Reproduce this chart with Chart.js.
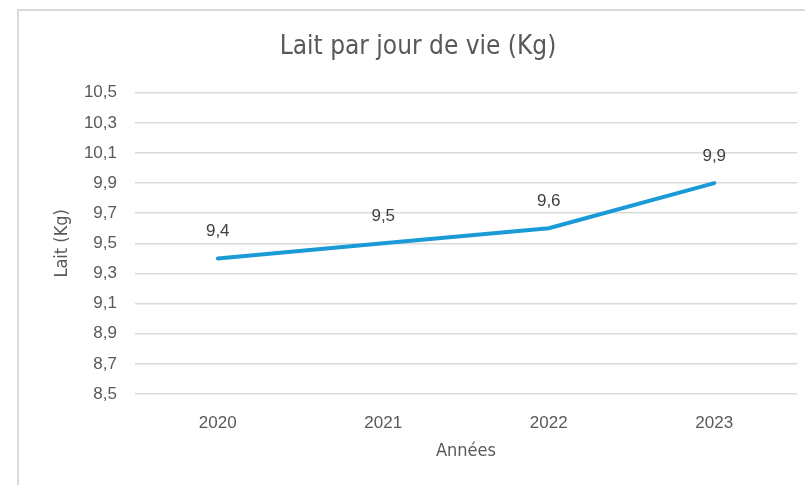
<!DOCTYPE html>
<html>
<head>
<meta charset="utf-8">
<script src="https://cdn.jsdelivr.net/npm/chart.js@4.4.1/dist/chart.umd.min.js"></script>
<style>
    body { margin: 0; background: #fff; }
    .frame {
        position: absolute;
        left: 17px;
        top: 9px;
        width: 788px;
        height: 476px;
        border-top: 2px solid #d9d9d9;
        border-left: 2px solid #d9d9d9;
    }
    .frame canvas { display: block; }
</style>
</head>
<body>
<div class="frame"><canvas id="milkChart" width="788" height="476"></canvas></div>
<script>
// Data
const years = ['2020', '2021', '2022', '2023'];
const milkPerDay = [9.4, 9.5, 9.6, 9.9];
const yMin = 8.5;
const yMax = 10.5;
const yStep = 0.2;

const narrowFont = "'Liberation Sans Narrow', 'DejaVu Sans Condensed', sans-serif";
const plainFont = "'Liberation Sans', Arial, sans-serif";
const textColor = '#595959';

const frLabel = v => v.toFixed(1).replace('.', ',');

// Simple value labels above each point
const pointLabels = {
    id: 'pointLabels',
    afterDatasetsDraw(chart) {
        const ctx = chart.ctx;
        const meta = chart.getDatasetMeta(0);
        ctx.save();
        ctx.font = '17px ' + plainFont;
        ctx.fillStyle = '#404040';
        ctx.textAlign = 'center';
        ctx.textBaseline = 'middle';
        meta.data.forEach((pt, i) => {
            ctx.fillText(frLabel(milkPerDay[i]), pt.x, pt.y - 27);
        });
        ctx.restore();
    }
};

new Chart(document.getElementById('milkChart'), {
    type: 'line',
    data: {
        labels: years,
        datasets: [{
            label: 'Lait',
            data: milkPerDay,
            borderColor: '#1a9bd7',
            borderWidth: 4,
            borderCapStyle: 'round',
            borderJoinStyle: 'round',
            pointRadius: 0,
            tension: 0,
            fill: false
        }]
    },
    options: {
        responsive: false,
        animation: false,
        layout: { padding: { left: 20, right: 10, top: 0, bottom: 0 } },
        plugins: {
            legend: { display: false },
            tooltip: { enabled: false },
            title: {
                display: true,
                text: 'Lait par jour de vie (Kg)',
                color: textColor,
                font: { family: narrowFont, size: 26, weight: 'normal' },
                padding: { top: 21, bottom: 29.5 }
            }
        },
        scales: {
            x: {
                offset: true,
                grid: { display: false, drawTicks: false },
                border: { display: false },
                ticks: { color: textColor, font: { family: plainFont, size: 17 }, padding: 19 },
                title: {
                    display: true,
                    text: 'Années',
                    color: textColor,
                    font: { family: narrowFont, size: 18 },
                    padding: { top: 0, bottom: 25 }
                },
                afterFit(scale) { scale.height = 93; }
            },
            y: {
                min: yMin,
                max: yMax,
                grid: { color: '#d9d9d9', lineWidth: 1.5, drawTicks: false },
                border: { display: false },
                ticks: {
                    stepSize: yStep,
                    color: textColor,
                    font: { family: plainFont, size: 17 },
                    padding: 18,
                    callback: v => frLabel(v)
                },
                title: {
                    display: true,
                    text: 'Lait (Kg)',
                    color: textColor,
                    font: { family: narrowFont, size: 18 },
                    padding: { top: 13, bottom: 0 }
                },
                afterFit(scale) { scale.width = 96; }
            }
        }
    },
    plugins: [pointLabels]
});
</script>
</body>
</html>
